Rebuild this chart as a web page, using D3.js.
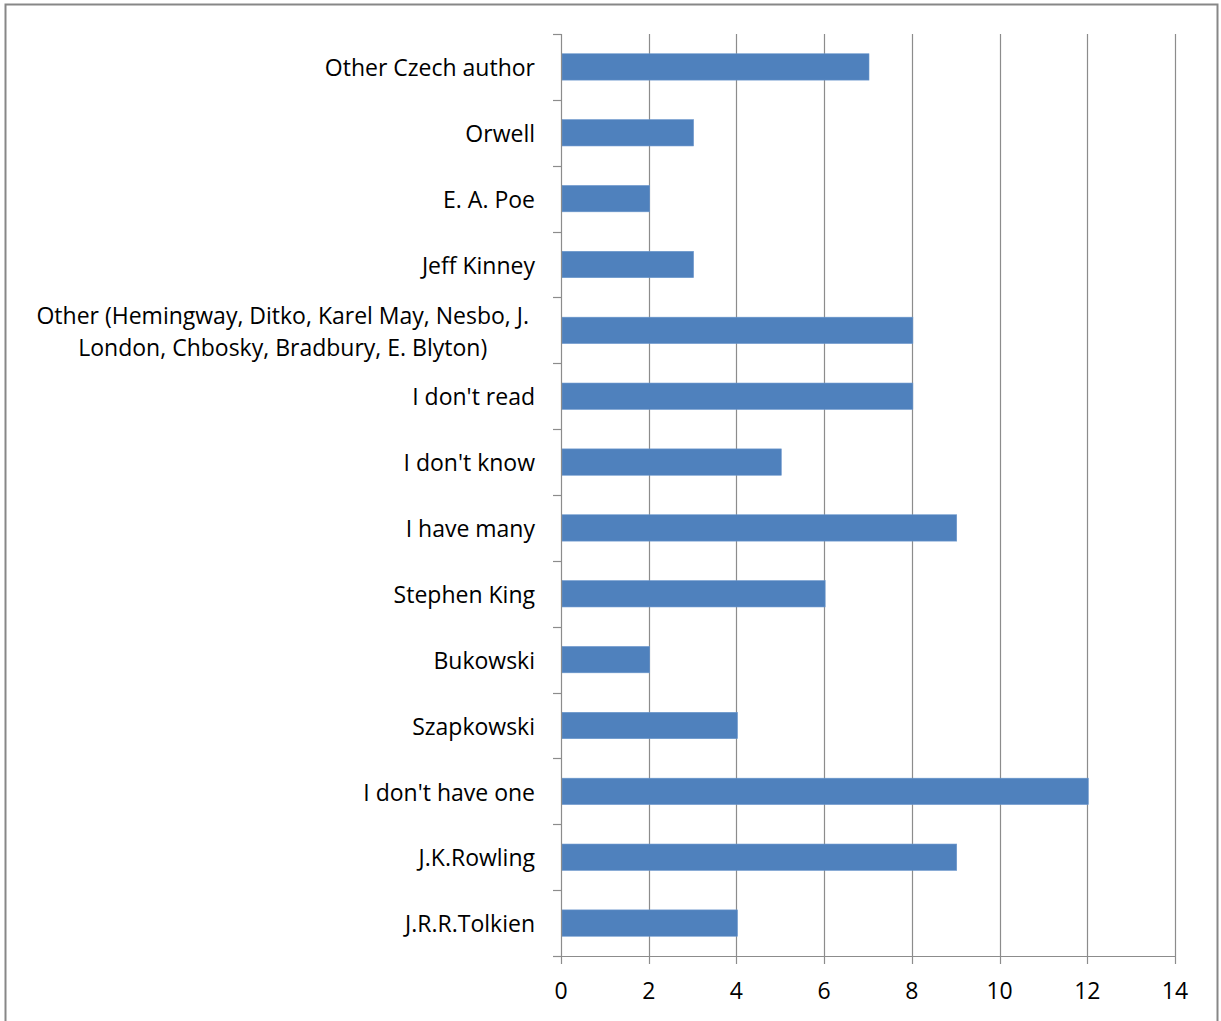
<!DOCTYPE html>
<html>
<head>
<meta charset="utf-8">
<script src="https://cdn.jsdelivr.net/npm/d3@7"></script>
<style>
  body { margin: 0; background: #fff; }
  svg { display: block; }
</style>
</head>
<body>
<div id="chart"></div>
<script>
// categories, top to bottom as shown
var authors = [
  "Other Czech author",
  "Orwell",
  "E. A. Poe",
  "Jeff Kinney",
  "Other (Hemingway, Ditko, Karel May, Nesbo, J.|London, Chbosky, Bradbury, E. Blyton)",
  "I don't read",
  "I don't know",
  "I have many",
  "Stephen King",
  "Bukowski",
  "Szapkowski",
  "I don't have one",
  "J.K.Rowling",
  "J.R.R.Tolkien"
];
var counts = [7, 3, 2, 3, 8, 8, 5, 9, 6, 2, 4, 12, 9, 4];
var xTicks = [0, 2, 4, 6, 8, 10, 12, 14];

var W = 1221, H = 1021;
var margin = { top: 34, right: 46, bottom: 65, left: 561 };
var width = W - margin.left - margin.right,
    height = H - margin.top - margin.bottom;

var root = d3.select("#chart").append("svg")
  .attr("width", W)
  .attr("height", H);

// outer frame
root.append("rect")
  .attr("x", 5.5).attr("y", 4.5)
  .attr("width", 1212).attr("height", 1030)
  .attr("fill", "none")
  .attr("stroke", "#878787")
  .attr("stroke-width", 2);

var svg = root.append("g")
  .attr("transform", "translate(" + margin.left + "," + margin.top + ")");

var x = d3.scaleLinear().domain([0, 14]).range([0, width]);
var y = d3.scaleBand().domain(authors).range([0, height]).padding(0);

var font = "'Open Sans', sans-serif";
var fontSize = "23px";
var gridColor = "#8c8c8c";

// vertical gridlines
svg.selectAll("gridline")
  .data(xTicks.slice(1))
  .enter()
  .append("line")
  .attr("x1", function (d) { return Math.round(x(d)) + 0.5; })
  .attr("x2", function (d) { return Math.round(x(d)) + 0.5; })
  .attr("y1", 0)
  .attr("y2", height)
  .attr("stroke", gridColor)
  .attr("stroke-width", 1.2);

// bars
svg.selectAll("mybar")
  .data(authors)
  .enter()
  .append("rect")
  .attr("x", x(0) + 1)
  .attr("y", function (d) { return y(d) + y.bandwidth() * 0.3; })
  .attr("width", function (d, i) { return x(counts[i]) - x(0); })
  .attr("height", y.bandwidth() * 0.4)
  .attr("fill", "#4f81bd")
  .attr("stroke", "#6a96cc")
  .attr("stroke-width", 0.6);

// y axis line + category boundary ticks
svg.append("line")
  .attr("x1", 0.5).attr("x2", 0.5)
  .attr("y1", 0).attr("y2", height)
  .attr("stroke", gridColor).attr("stroke-width", 1.2);

svg.selectAll("ytick")
  .data(d3.range(authors.length + 1))
  .enter()
  .append("line")
  .attr("x1", -8).attr("x2", 0.5)
  .attr("y1", function (i) { return Math.round(i * y.step()) + 0.5; })
  .attr("y2", function (i) { return Math.round(i * y.step()) + 0.5; })
  .attr("stroke", gridColor).attr("stroke-width", 1.2);

// x axis line + ticks
svg.append("line")
  .attr("x1", 0).attr("x2", width + 0.5)
  .attr("y1", height + 0.5).attr("y2", height + 0.5)
  .attr("stroke", gridColor).attr("stroke-width", 1.2);

svg.selectAll("xtick")
  .data(xTicks)
  .enter()
  .append("line")
  .attr("x1", function (d) { return Math.round(x(d)) + 0.5; })
  .attr("x2", function (d) { return Math.round(x(d)) + 0.5; })
  .attr("y1", height)
  .attr("y2", height + 8)
  .attr("stroke", gridColor).attr("stroke-width", 1.2);

svg.selectAll("xlabel")
  .data(xTicks)
  .enter()
  .append("text")
  .attr("x", function (d) { return x(d); })
  .attr("y", height + 43)
  .attr("text-anchor", "middle")
  .style("font-family", font)
  .style("font-size", fontSize)
  .attr("fill", "#000")
  .text(function (d) { return d; });

// category labels (| marks a line break, wrapped lines are centred)
authors.forEach(function (d) {
  var lines = d.split("|");
  var cy = y(d) + y.bandwidth() / 2;
  if (lines.length === 1) {
    svg.append("text")
      .attr("x", -26)
      .attr("y", cy)
      .attr("dy", "0.4em")
      .attr("text-anchor", "end")
      .style("font-family", font)
      .style("font-size", fontSize)
      .text(d);
  } else {
    var t = svg.append("text")
      .attr("text-anchor", "middle")
      .style("font-family", font)
      .style("font-size", fontSize);
    lines.forEach(function (l, k) {
      t.append("tspan")
        .attr("y", cy + (k - (lines.length - 1) / 2) * 32)
        .attr("dy", "0.4em")
        .text(l);
    });
    var maxW = 0;
    t.selectAll("tspan").each(function () {
      maxW = Math.max(maxW, this.getComputedTextLength());
    });
    t.selectAll("tspan").attr("x", -32 - maxW / 2);
  }
});
</script>
</body>
</html>
